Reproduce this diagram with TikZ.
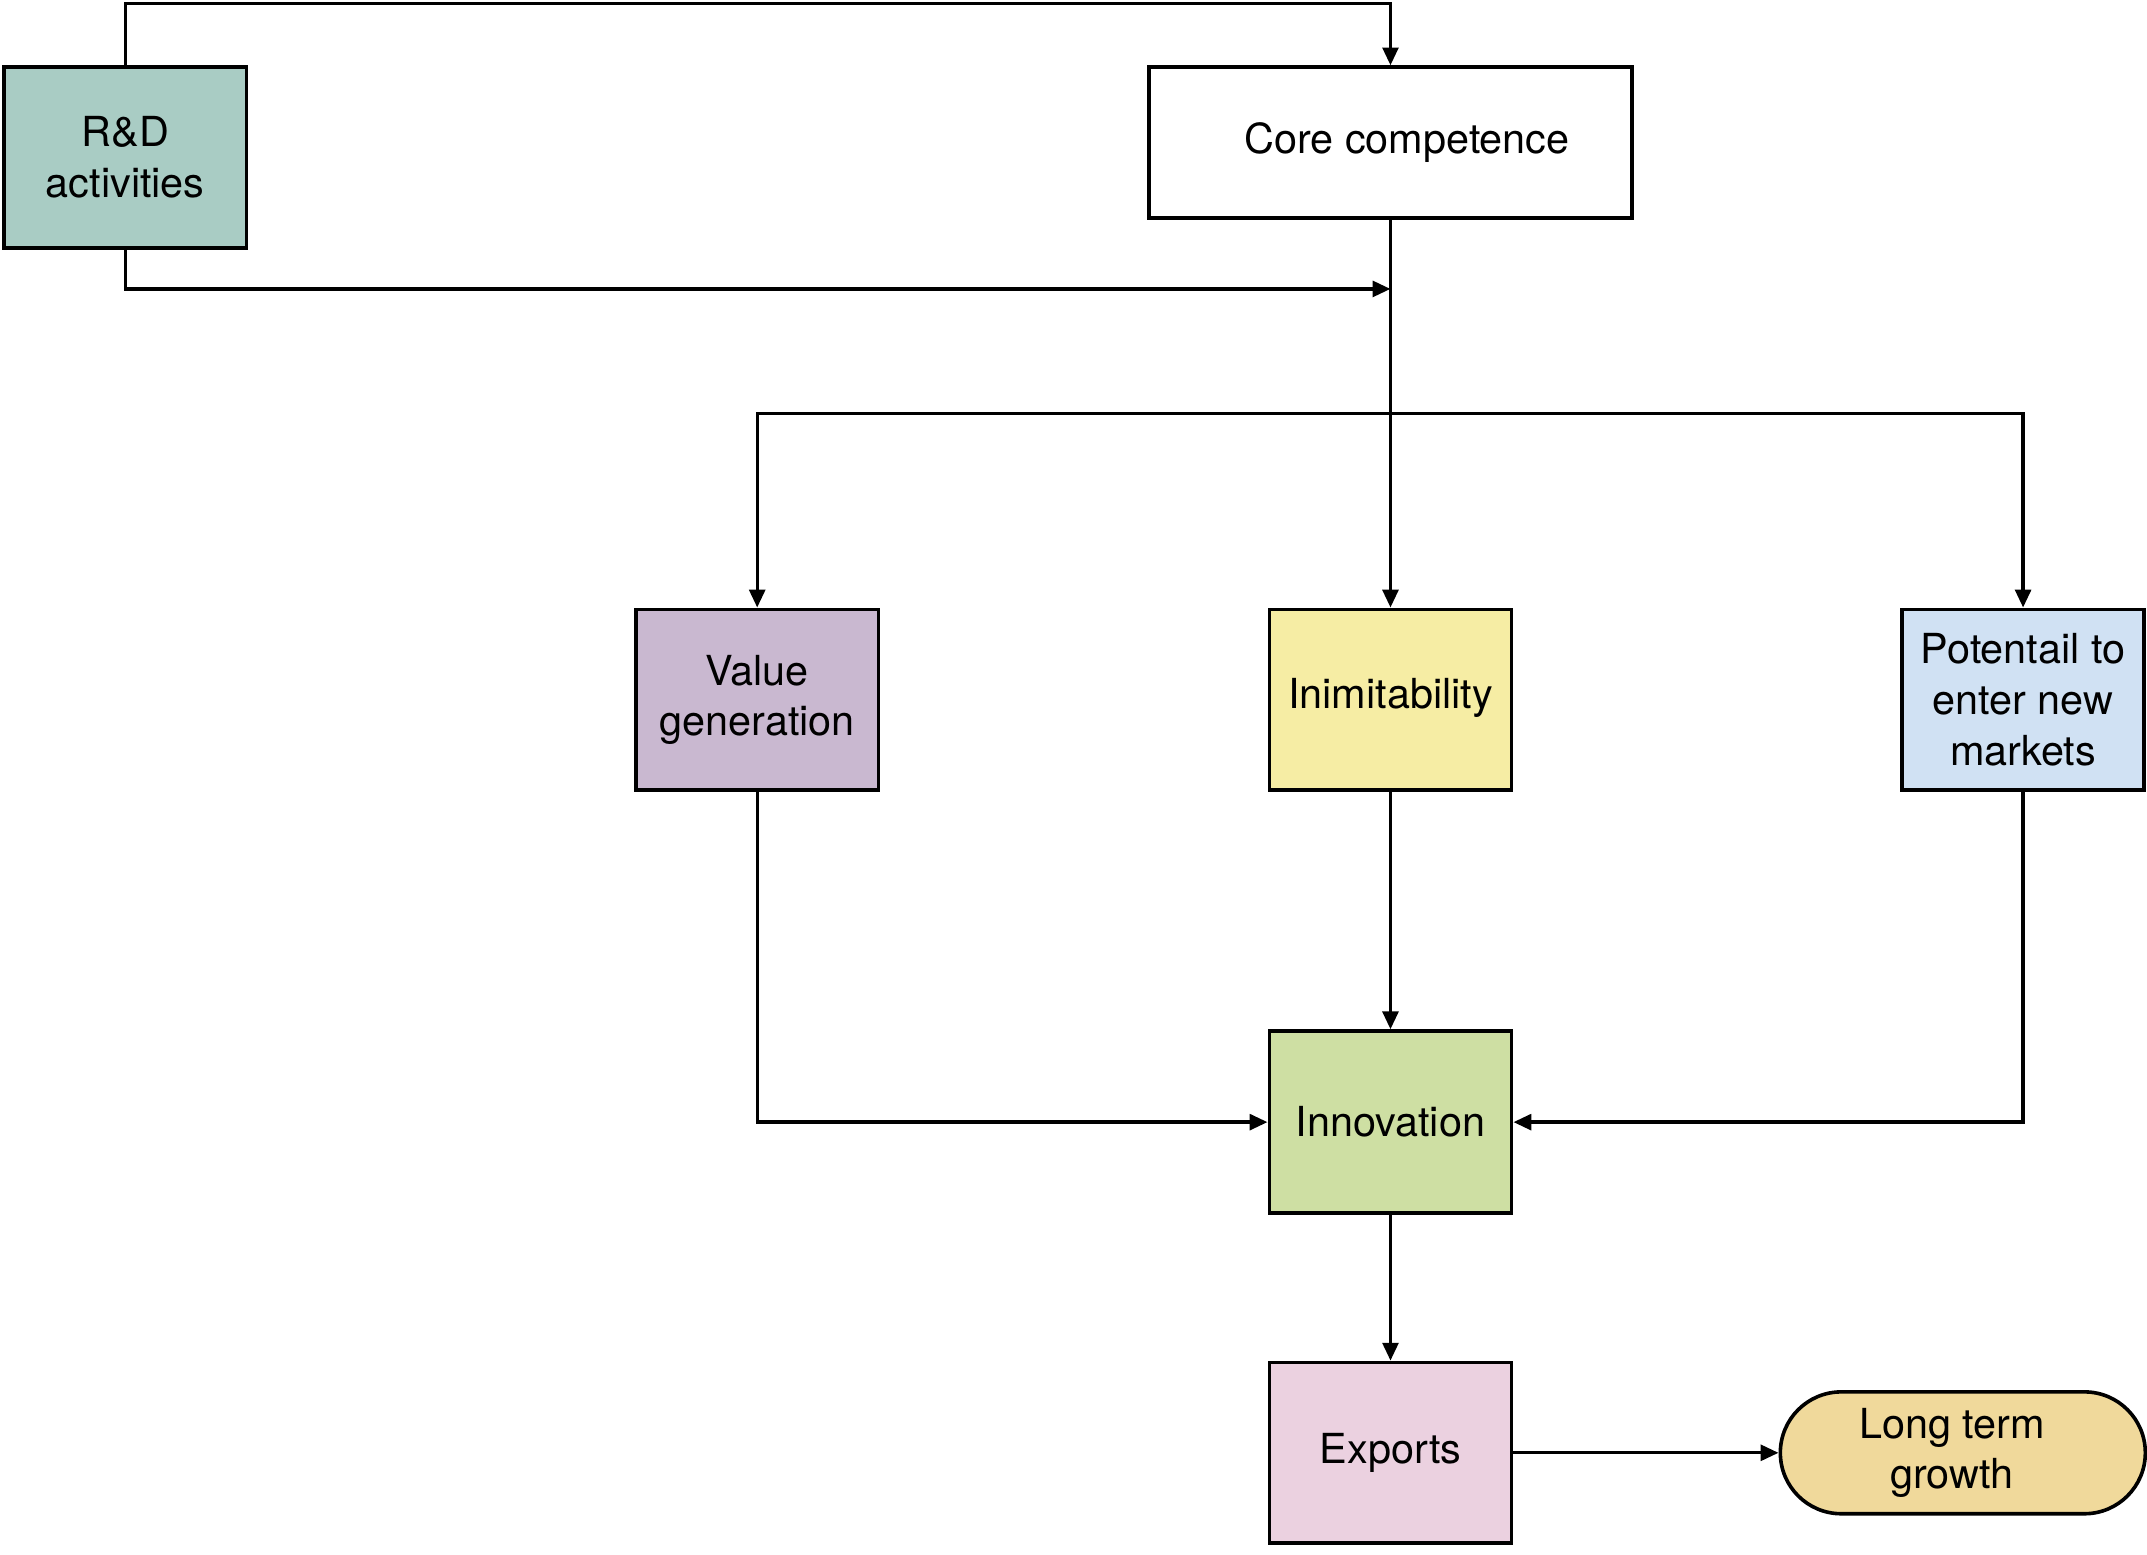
\documentclass[tikz,border=0pt]{standalone}
\usepackage{fontspec}
\setmainfont{TeX Gyre Heros}
\usepackage{tikz}
\usetikzlibrary{arrows.meta,shapes.misc,positioning}

\definecolor{rdcol}{HTML}{A9CCC4}
\definecolor{valcol}{HTML}{C9B8D0}
\definecolor{inicol}{HTML}{F6EDA4}
\definecolor{potcol}{HTML}{D0E1F3}
\definecolor{inncol}{HTML}{CEDFA3}
\definecolor{expcol}{HTML}{EBD1E0}
\definecolor{grocol}{HTML}{F0D99B}

\begin{document}
\begin{tikzpicture}[x=0.1mm,y=-0.1mm,
  >={Triangle[length=1.3mm,width=1.15mm]},
  box/.style={draw,line width=0.75pt,minimum width=17.7mm,minimum height=13.2mm,
    align=center,font=\fontsize{8.6}{10.5}\selectfont},
  flow/.style={->,line width=0.7pt}]

  \useasboundingbox (0,0) rectangle (1568,1135);

  \newcommand\XM{1015.5};
  \newcommand\YM{511};

  \node[box,fill=rdcol] (rd) at (91.5,115) {R\&D\\activities};
  \node[box,fill=white,minimum width=35.3mm,minimum height=11mm] (core) at (\XM,104)
    {\hspace*{2.4mm}Core competence};

  \node[box,fill=valcol] (value) at (553,\YM) {Value\\generation};
  \node[box,fill=inicol] (inim) at (\XM,\YM) {\raisebox{0.9mm}{Inimitability}};
  \node[box,fill=potcol] (pot) at (1477.5,\YM) {Potentail to\\enter new\\markets};

  \node[box,fill=inncol,minimum height=13.3mm] (innov) at (\XM,819.5) {Innovation};
  \node[box,fill=expcol] (exports) at (\XM,1061) {Exports};
  \node[box,rounded rectangle,fill=grocol,minimum width=29mm,minimum height=8.9mm]
    (growth) at (1433.5,1061) {\hspace*{-1.6mm}Long term\\\hspace*{-1.6mm}growth};

  \coordinate (join) at (\XM,211);
  \coordinate (split) at (\XM,302);

  \draw[flow] (rd.north) -- ++(0,-45) -| (core.north);
  \draw[flow] (rd.south) |- (join);
  \draw[flow] (core.south) -- (inim.north);
  \draw[line width=0.7pt] (value.north |- split) -- (pot.north |- split);
  \draw[flow] (split) -| (value.north);
  \draw[flow] (split) -| (pot.north);

  \draw[flow] (value.south) |- (innov.west);
  \draw[flow] (pot.south) |- (innov.east);
  \draw[flow] (inim.south) -- (innov.north);
  \draw[flow] (innov.south) -- (exports.north);
  \draw[flow] (exports.east) -- (growth.west);

\end{tikzpicture}
\end{document}
